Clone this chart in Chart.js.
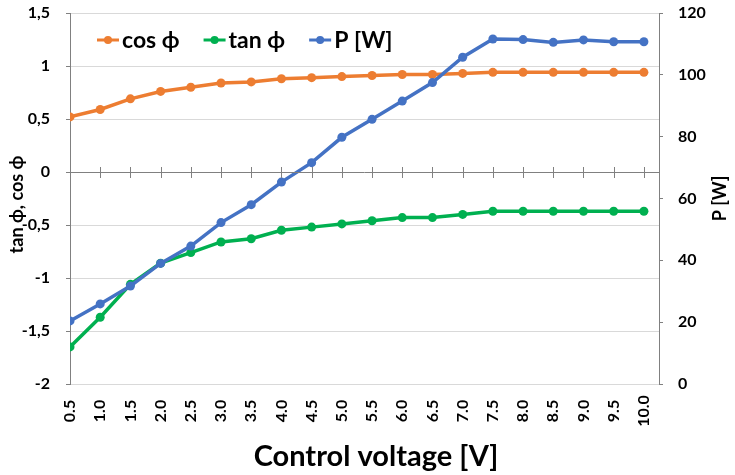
<!DOCTYPE html>
<html>
<head>
<meta charset="utf-8">
<script src="https://cdn.jsdelivr.net/npm/chart.js@4.4.1/dist/chart.umd.min.js"></script>
<style>
  body { margin: 0; background: #fff; }
  #wrap { width: 735px; height: 475px; }
</style>
</head>
<body>
<div id="wrap"><canvas id="pfChart" width="735" height="475"></canvas></div>
<script>
// control voltage steps and the readings at each one
const voltages = [0.5, 1.0, 1.5, 2.0, 2.5, 3.0, 3.5, 4.0, 4.5, 5.0, 5.5, 6.0, 6.5, 7.0, 7.5, 8.0, 8.5, 9.0, 9.5, 10.0];
const voltLabels = ['0.5', '1.0', '1.5', '2.0', '2.5', '3.0', '3.5', '4.0', '4.5', '5.0', '5.5', '6.0', '6.5', '7.0', '7.5', '8.0', '8.5', '9.0', '9.5', '10.0'];
const cosPhi = [0.52, 0.59, 0.69, 0.76, 0.80, 0.84, 0.85, 0.88, 0.89, 0.90, 0.91, 0.92, 0.92, 0.93, 0.94, 0.94, 0.94, 0.94, 0.94, 0.94];
const tanPhi = [-1.65, -1.37, -1.06, -0.86, -0.76, -0.66, -0.63, -0.55, -0.52, -0.49, -0.46, -0.43, -0.43, -0.40, -0.37, -0.37, -0.37, -0.37, -0.37, -0.37];
const powerW = [20.4, 25.9, 31.7, 39.0, 44.6, 52.2, 58.0, 65.3, 71.6, 79.8, 85.6, 91.5, 97.5, 105.7, 111.6, 111.4, 110.5, 111.3, 110.7, 110.7];

const seriesNames = ['cos \u03D5', 'tan \u03D5', 'P [W]'];
const leftTitle = 'tan \u03D5, cos \u03D5';
const rightTitle = 'P [W]';
const xTitle = 'Control voltage [V]';

const FONT = 'Lato, Carlito, "Open Sans", sans-serif';
const axisGrey = '#808080';

function pts(values) {
  return voltages.map((v, i) => ({ x: v, y: values[i] }));
}

function line(label, values, color, axis, order) {
  return {
    label: label,
    data: pts(values),
    yAxisID: axis,
    order: order,
    borderColor: color,
    backgroundColor: color,
    borderWidth: 3.5,
    pointRadius: 4.5,
    pointBorderWidth: 0,
    pointBackgroundColor: color,
    tension: 0
  };
}

function fitY(width) {
  return s => {
    s.width = width;
    s.paddingTop = 0;
    s.paddingBottom = 0;
  };
}

// zero line ticks, rotated x labels, titles and the in-plot legend
const extras = {
  id: 'extras',
  afterDatasetsDraw(chart) {
    const ctx = chart.ctx;
    const xs = chart.scales.x;
    const yl = chart.scales.yL;
    const area = chart.chartArea;
    const y0 = yl.getPixelForValue(0);

    ctx.save();
    ctx.strokeStyle = axisGrey;
    ctx.lineWidth = 1;
    ctx.beginPath();
    ctx.moveTo(area.left, y0 + 0.5);
    ctx.lineTo(area.right, y0 + 0.5);
    voltages.forEach(v => {
      const x = Math.round(xs.getPixelForValue(v)) + 0.5;
      ctx.moveTo(x, y0 - 5);
      ctx.lineTo(x, y0 + 6);
    });
    ctx.stroke();

    // legend
    ctx.font = 'bold 23px ' + FONT;
    ctx.textBaseline = 'middle';
    ctx.textAlign = 'left';
    let lx = 97;
    const ly = 40;
    chart.data.datasets.forEach(ds => {
      ctx.strokeStyle = ds.borderColor;
      ctx.fillStyle = ds.borderColor;
      ctx.lineWidth = 3;
      ctx.beginPath();
      ctx.moveTo(lx, ly);
      ctx.lineTo(lx + 22, ly);
      ctx.stroke();
      ctx.beginPath();
      ctx.arc(lx + 11, ly, 4, 0, Math.PI * 2);
      ctx.fill();
      ctx.fillStyle = '#000';
      ctx.fillText(ds.label, lx + 25, ly + 1);
      lx += 25 + ctx.measureText(ds.label).width + 24;
    });
    ctx.restore();
  },
  afterDraw(chart) {
    const ctx = chart.ctx;
    const xs = chart.scales.x;
    const area = chart.chartArea;
    ctx.save();
    ctx.fillStyle = '#000';

    // x tick labels, turned to read upward
    ctx.font = 'bold 16px ' + FONT;
    ctx.textAlign = 'center';
    ctx.textBaseline = 'middle';
    voltages.forEach((v, i) => {
      ctx.save();
      ctx.translate(xs.getPixelForValue(v), 411);
      ctx.rotate(-Math.PI / 2);
      ctx.fillText(voltLabels[i], 0, 0);
      ctx.restore();
    });

    // x title
    ctx.font = 'bold 29px ' + FONT;
    ctx.fillText(xTitle, 376, 457);

    // axis titles
    const midY = (area.top + area.bottom) / 2;
    ctx.font = 'bold 18px ' + FONT;
    ctx.save();
    ctx.translate(17, midY + 6);
    ctx.rotate(-Math.PI / 2);
    ctx.fillText(leftTitle, 0, 0);
    ctx.restore();
    ctx.save();
    ctx.translate(720, midY);
    ctx.rotate(-Math.PI / 2);
    ctx.fillText(rightTitle, 0, 0);
    ctx.restore();
    ctx.restore();
  }
};

new Chart(document.getElementById('pfChart'), {
  type: 'line',
  data: {
    datasets: [
      line(seriesNames[0], cosPhi, '#ED7D31', 'yL', 2),
      line(seriesNames[1], tanPhi, '#00B050', 'yL', 1),
      line(seriesNames[2], powerW, '#4472C4', 'yR', 0)
    ]
  },
  options: {
    responsive: false,
    animation: false,
    layout: { padding: { top: 13, left: 0, right: 0, bottom: 0 } },
    plugins: {
      legend: { display: false },
      tooltip: { enabled: false }
    },
    scales: {
      x: {
        type: 'linear',
        min: 0.5,
        max: 10.25,
        ticks: { display: false },
        grid: { display: false },
        border: { display: false },
        afterFit(s) {
          s.height = 91;
          s.paddingLeft = 0;
          s.paddingRight = 0;
        }
      },
      yL: {
        position: 'left',
        min: -2,
        max: 1.5,
        ticks: {
          stepSize: 0.5,
          padding: 16,
          color: '#000',
          font: { family: FONT, size: 16, weight: 'bold' },
          callback: v => String(v).replace('.', ',')
        },
        grid: {
          color: ctx => ctx.tick && ctx.tick.value === 0 ? 'rgba(0,0,0,0)' : '#d9d9d9',
          tickColor: axisGrey,
          tickLength: 4
        },
        border: { color: axisGrey },
        afterFit: fitY(70)
      },
      yR: {
        position: 'right',
        min: 0,
        max: 120,
        ticks: {
          stepSize: 20,
          padding: 15,
          color: '#000',
          font: { family: FONT, size: 16, weight: 'bold' }
        },
        grid: {
          drawOnChartArea: false,
          tickColor: axisGrey,
          tickLength: 4
        },
        border: { color: axisGrey },
        afterFit: fitY(76)
      }
    }
  },
  plugins: [extras]
});
</script>
</body>
</html>
